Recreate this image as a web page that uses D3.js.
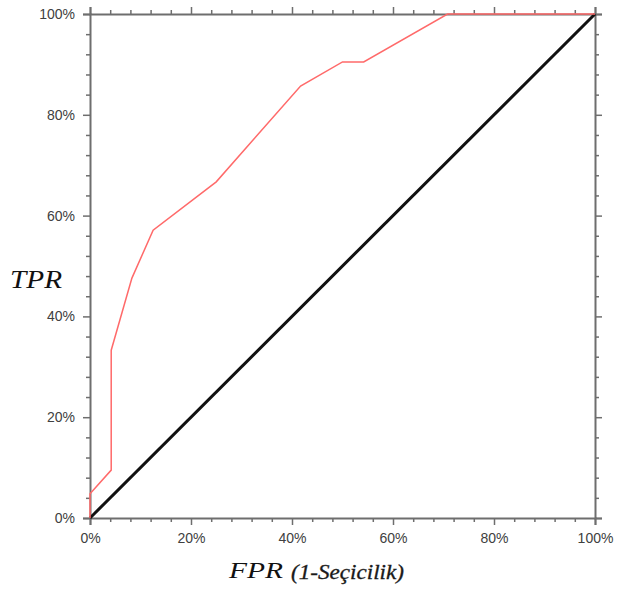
<!DOCTYPE html>
<html>
<head>
<meta charset="utf-8">
<script src="https://cdn.jsdelivr.net/npm/d3@7"></script>
<style>
  body { margin: 0; background: #fff; }
  .tick text { font-family: "Liberation Sans", Arial, sans-serif; font-size: 14px; fill: #404040; }
</style>
</head>
<body>
<div id="chart"></div>
<script>
// ROC curve points (percent)
const rocFpr = [0, 0, 4.2, 4.2, 8.3, 12.5, 25, 41.7, 50, 54.2, 70.8, 100];
const rocTpr = [0, 4.8, 9.5, 33.3, 47.6, 57.1, 66.7, 85.7, 90.5, 90.5, 100, 100];

// reference diagonal
const diagFpr = [0, 100];
const diagTpr = [0, 100];

const majorTicks = [0, 20, 40, 60, 80, 100];

let width = 617, height = 591;
let margin = {top: 14, right: 22, bottom: 73, left: 90};

let svg = d3.select("#chart").append("svg")
    .attr("width", width)
    .attr("height", height);

let xScale = d3.scaleLinear().domain([0, 100]).range([margin.left, width - margin.right]);
let yScale = d3.scaleLinear().domain([0, 100]).range([height - margin.bottom, margin.top]);

let minorTicks = d3.range(0, 101, 4).filter(d => d % 20 != 0);

// draws minor + major ticks and the line for one side
function drawAxis(axisFn, scale, transform, labels) {
    let g = svg.append("g").attr("transform", transform);
    g.call(axisFn(scale).tickValues(minorTicks).tickSize(4).tickFormat(""));
    g.select(".domain").remove();
    let g2 = svg.append("g").attr("transform", transform);
    g2.call(axisFn(scale).tickValues(majorTicks).tickSize(7).tickPadding(labels ? 8 : 0)
        .tickFormat(labels ? (d => d + "%") : ""));
    g2.select(".domain").attr("stroke", "#6e6e6e").attr("stroke-width", 2);
    [g, g2].forEach(a => a.selectAll(".tick line").attr("stroke", "#6e6e6e").attr("stroke-width", 1.5));
    return g2;
}

drawAxis(d3.axisBottom, xScale, "translate(0," + yScale(0) + ")", true);
drawAxis(d3.axisTop, xScale, "translate(0," + yScale(100) + ")", false);
drawAxis(d3.axisLeft, yScale, "translate(" + xScale(0) + ",0)", true);
drawAxis(d3.axisRight, yScale, "translate(" + xScale(100) + ",0)", false);

let line = d3.line()
    .x(d => xScale(d[0]))
    .y(d => yScale(d[1]));

svg.append("path")
    .datum(diagFpr.map((d, i) => [d, diagTpr[i]]))
    .attr("d", line)
    .attr("fill", "none")
    .attr("stroke", "#111")
    .attr("stroke-width", 3);

svg.append("path")
    .datum(rocFpr.map((d, i) => [d, rocTpr[i]]))
    .attr("d", line)
    .attr("fill", "none")
    .attr("stroke", "#ff6a6a")
    .attr("stroke-width", 1.5);

// axis titles
svg.append("text")
    .attr("x", 10)
    .attr("y", 288)
    .attr("font-family", "Liberation Serif, serif")
    .attr("font-style", "italic")
    .attr("font-size", 26)
    .attr("textLength", 52)
    .attr("lengthAdjust", "spacingAndGlyphs")
    .attr("fill", "#111")
    .text("TPR");

svg.append("text")
    .attr("x", 229)
    .attr("y", 578)
    .attr("font-family", "Liberation Serif, serif")
    .attr("font-style", "italic")
    .attr("font-size", 23)
    .attr("textLength", 54)
    .attr("lengthAdjust", "spacingAndGlyphs")
    .attr("fill", "#111")
    .text("FPR");

svg.append("text")
    .attr("x", 291)
    .attr("y", 579)
    .attr("font-family", "Liberation Serif, serif")
    .attr("font-style", "italic")
    .attr("font-size", 20)
    .attr("textLength", 113)
    .attr("lengthAdjust", "spacingAndGlyphs")
    .attr("fill", "#1a1a1a")
    .attr("stroke", "#1a1a1a")
    .attr("stroke-width", 0.3)
    .text("(1-Seçicilik)");
</script>
</body>
</html>
